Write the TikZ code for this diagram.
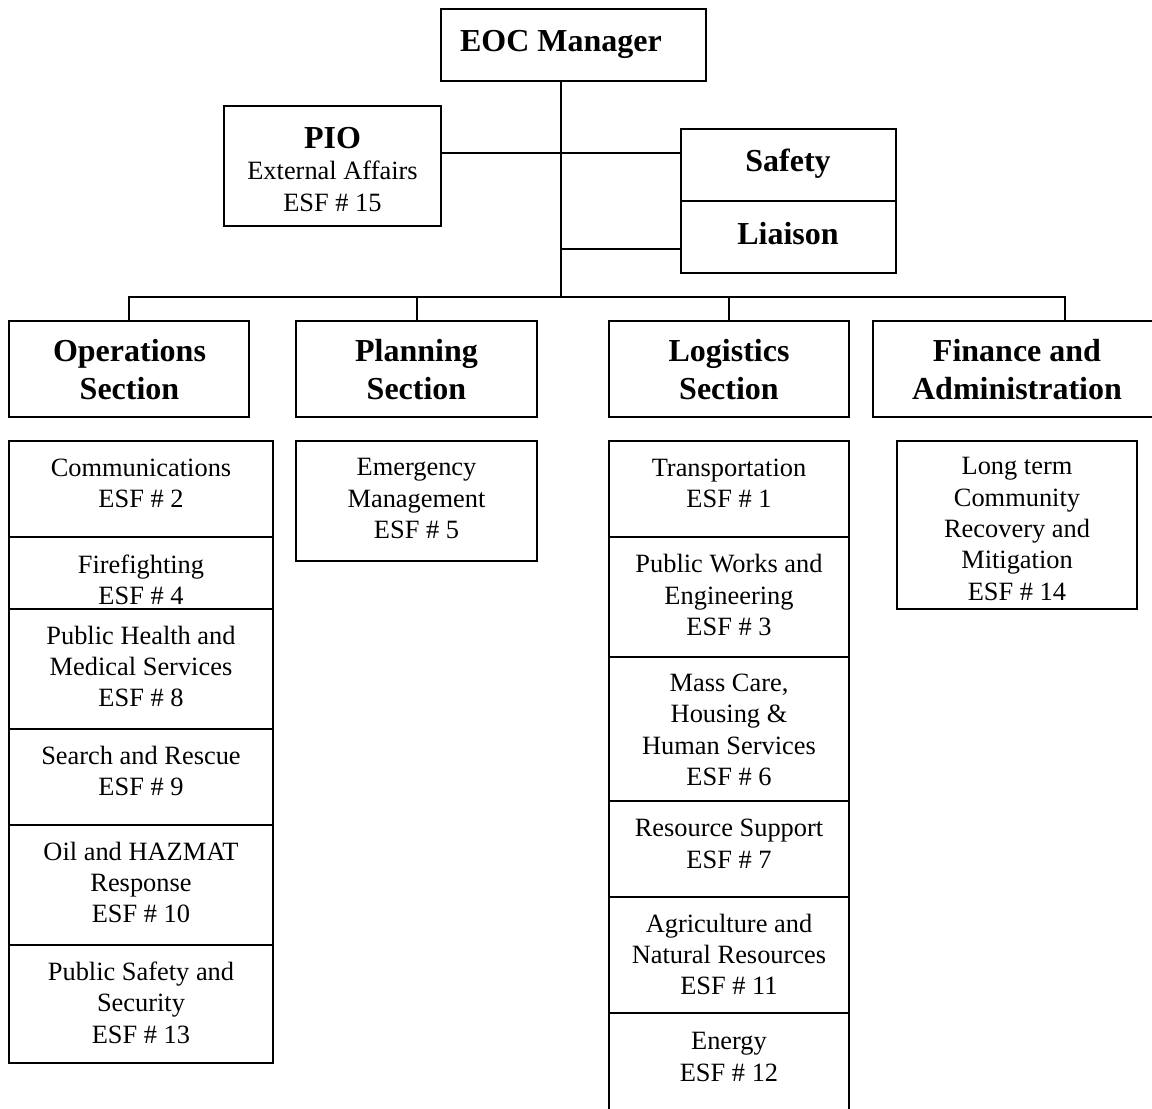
\documentclass[tikz,border=0pt]{standalone}
\usepackage{fontspec}
\setmainfont{Liberation Serif}
\newcommand{\bxat}[5]{\node[bx, minimum width={(#4-#2)*0.75pt}, minimum height={(#5-#3)*0.75pt}] (#1) at ({(#2+#4)/2},{(#3+#5)/2}) {};}
\begin{document}
\begin{tikzpicture}[x=0.75pt, y=-0.75pt,
  bx/.style={draw, line width=1.5pt, inner sep=0pt, outer sep=0pt, rectangle},
  rt/.style={font=\fontsize{19.8pt}{23.5pt}\selectfont, align=center, inner sep=0pt, outer sep=0pt},
  bt/.style={font=\fontsize{24pt}{28pt}\selectfont\bfseries, align=center, inner sep=0pt, outer sep=0pt},
  conn/.style={line width=1.5pt}]
\useasboundingbox (0,0) rectangle (1152,1109);
\clip (0,0) rectangle (1152,1109);
% top boxes
\bxat{eoc}{441}{9}{706}{81}
\bxat{pio}{224}{106}{441}{226}
\bxat{safety}{681}{129}{896}{201}
\bxat{liaison}{681}{201}{896}{273}
% sections
\bxat{ops}{9}{321}{249}{417}
\bxat{plan}{296}{321}{537}{417}
\bxat{log}{609}{321}{849}{417}
\bxat{fin}{873}{321}{1161}{417}
% operations stack
\bxat{c2}{9}{441}{273}{537}
\bxat{c4}{9}{537}{273}{609}
\bxat{c8}{9}{609}{273}{729}
\bxat{c9}{9}{729}{273}{825}
\bxat{c10}{9}{825}{273}{945}
\bxat{c13}{9}{945}{273}{1063}
% planning
\bxat{c5}{296}{441}{537}{561}
% logistics stack
\bxat{c1}{609}{441}{849}{537}
\bxat{c3}{609}{537}{849}{657}
\bxat{c6}{609}{657}{849}{801}
\bxat{c7}{609}{801}{849}{897}
\bxat{c11}{609}{897}{849}{1013}
\bxat{c12}{609}{1013}{849}{1140}
% finance
\bxat{c14}{897}{441}{1137}{609}
% texts
\node[bt, anchor=base] (t-eoc) at (561,52) {EOC Manager};
\node[rt] (t-pio) at (332.5,169.5) {{\fontsize{24pt}{28pt}\selectfont\bfseries PIO}\\External Affairs\\ESF \# 15};
\node[bt, anchor=base] (t-safety) at (788,172) {Safety};
\node[bt, anchor=base] (t-liaison) at (788,244) {Liaison};
\node[bt] (t-ops) at (129.5,369.5) {Operations\\Section};
\node[bt] (t-plan) at (416.5,369.5) {Planning\\Section};
\node[bt] (t-log) at (729,369.5) {Logistics\\Section};
\node[bt] (t-fin) at (1017,369.5) {Finance and\\Administration};
\node[rt] (t-c2) at (141,483.5) {Communications\\ESF \# 2};
\node[rt] (t-c4) at (141,579.5) {Firefighting\\ESF \# 4};
\node[rt] (t-c8) at (141,666.5) {Public Health and\\Medical Services\\ESF \# 8};
\node[rt] (t-c9) at (141,771) {Search and Rescue\\ESF \# 9};
\node[rt] (t-c10) at (141,882.5) {Oil and HAZMAT\\Response\\ESF \# 10};
\node[rt] (t-c13) at (141,1002.5) {Public Safety and\\Security\\ESF \# 13};
\node[rt] (t-c5) at (416.5,498.5) {Emergency\\Management\\ESF \# 5};
\node[rt] (t-c1) at (729,483.5) {Transportation\\ESF \# 1};
\node[rt] (t-c3) at (729,595) {Public Works and\\Engineering\\ESF \# 3};
\node[rt] (t-c6) at (729,730) {Mass Care,\\Housing \&\\Human Services\\ESF \# 6};
\node[rt] (t-c7) at (729,844) {Resource Support\\ESF \# 7};
\node[rt] (t-c11) at (729,954.5) {Agriculture and\\Natural Resources\\ESF \# 11};
\node[rt] (t-c12) at (729,1057) {Energy\\ESF \# 12};
\node[rt] (t-c14) at (1017,529) {Long term\\Community\\Recovery and\\Mitigation\\ESF \# 14};
% connectors
\coordinate (hub) at (561,297);
\coordinate (pl) at (441,153);
\coordinate (ll) at (561,249);
\coordinate (fdrop) at (1065,297);
\draw[conn] (hub |- eoc.south) -- (hub);
\draw[conn] (pio.east |- pl) -- (safety.west |- pl);
\draw[conn] (ll) -- (ll -| liaison.west);
\draw[conn] (ops.north) -- (ops.north |- hub) -- (fdrop) -- (fdrop |- fin.north);
\draw[conn] (plan.north) -- (plan.north |- hub);
\draw[conn] (log.north) -- (log.north |- hub);
\end{tikzpicture}
\end{document}
